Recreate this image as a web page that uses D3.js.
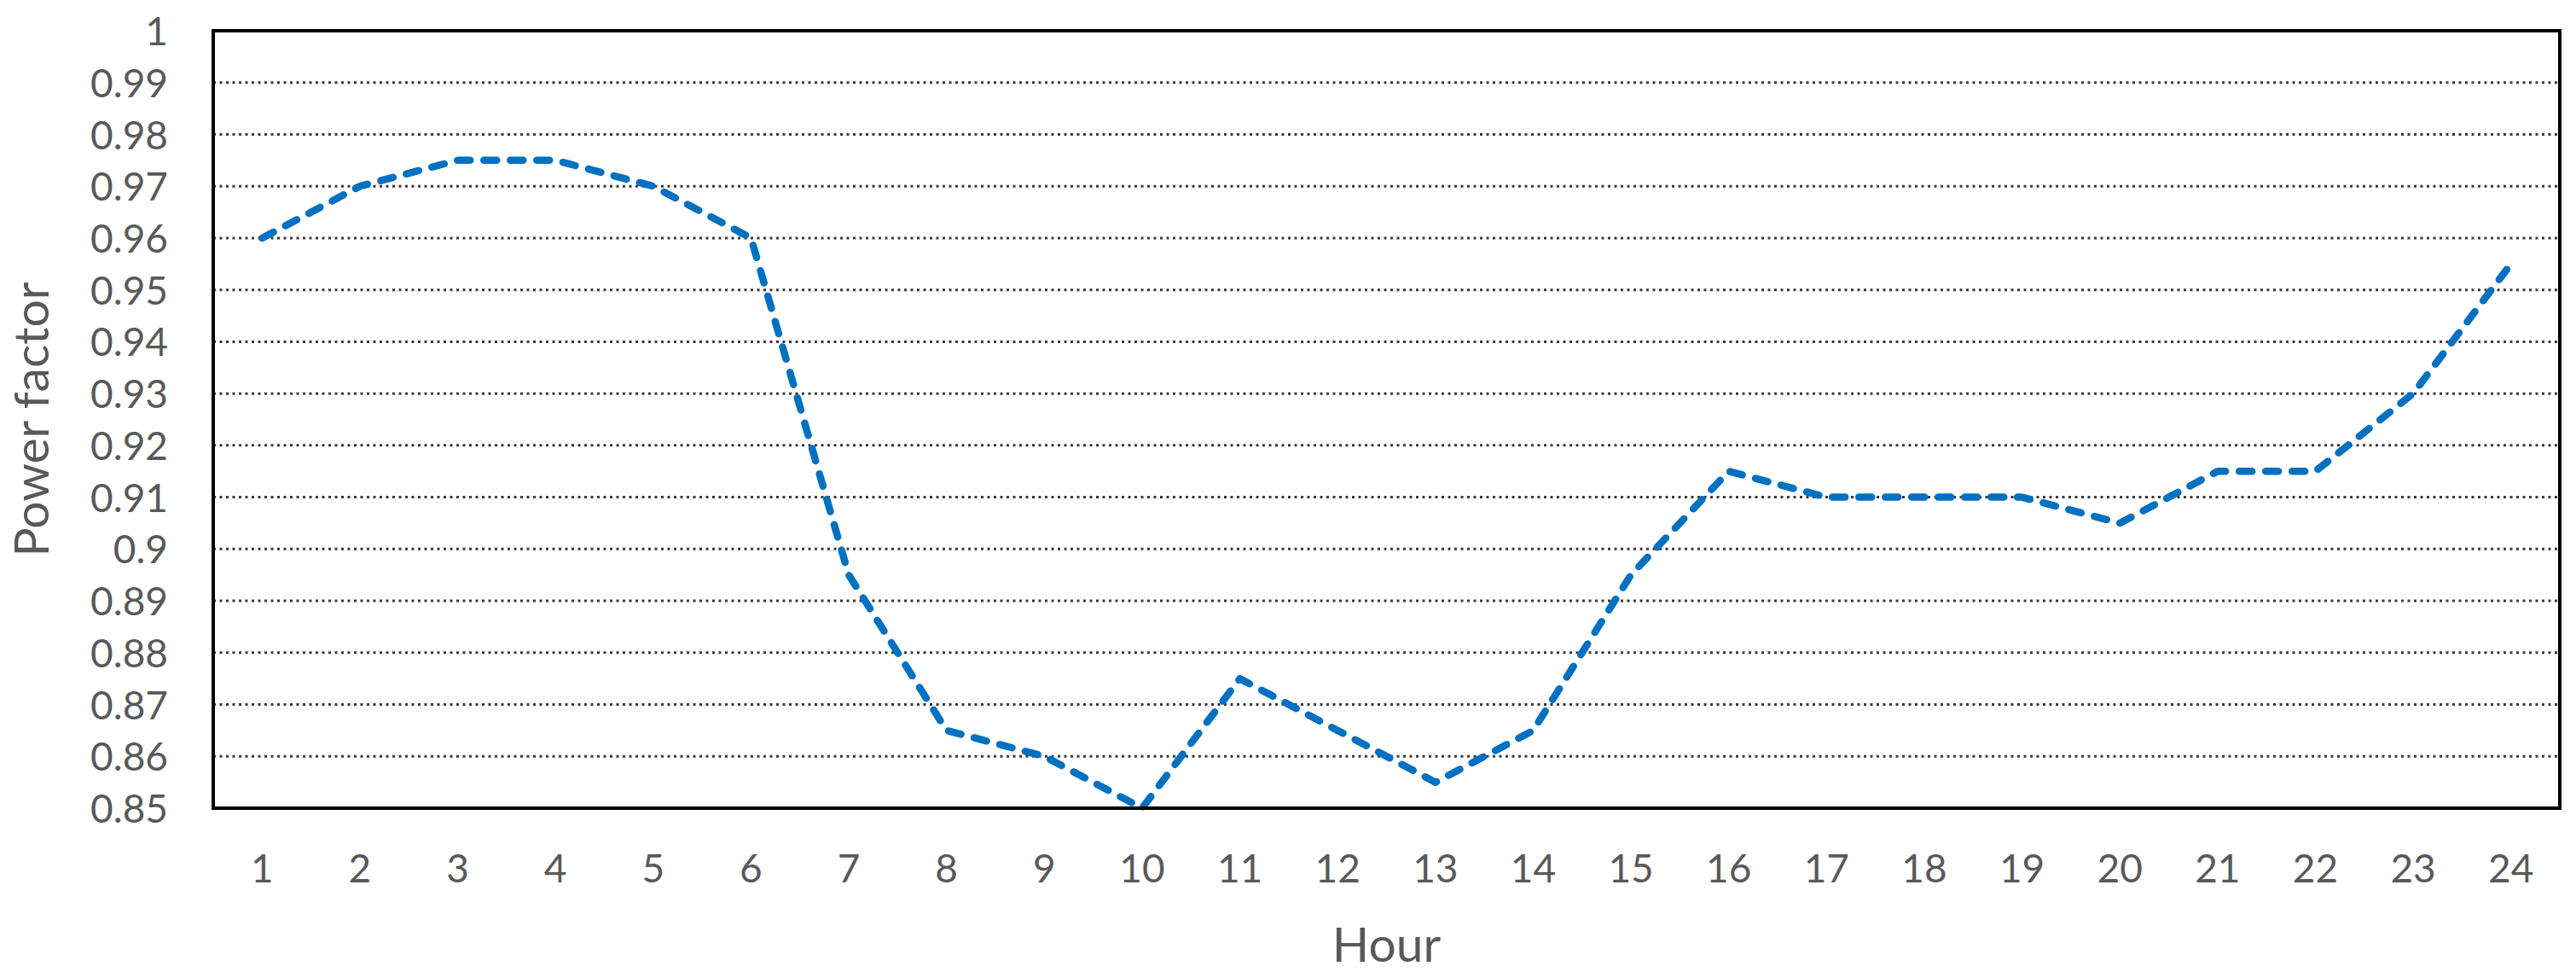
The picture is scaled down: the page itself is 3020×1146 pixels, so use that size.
<!DOCTYPE html>
<html>
<head>
<meta charset="utf-8">
<script src="https://cdn.jsdelivr.net/npm/d3@7"></script>
<style>
  html, body { margin: 0; padding: 0; background: #fff; }
  svg { display: block; }
</style>
</head>
<body>
<svg id="chart" width="3020" height="1146"></svg>
<script>
const hours = ["1","2","3","4","5","6","7","8","9","10","11","12","13","14","15","16","17","18","19","20","21","22","23","24"];
const powerFactor = [0.96,0.97,0.975,0.975,0.97,0.96,0.895,0.865,0.86,0.85,0.875,0.865,0.855,0.865,0.895,0.915,0.91,0.91,0.91,0.905,0.915,0.915,0.93,0.955];
const yTicks = [0.85,0.86,0.87,0.88,0.89,0.9,0.91,0.92,0.93,0.94,0.95,0.96,0.97,0.98,0.99,1];
const xTitle = "Hour";
const yTitle = "Power factor";

(function () {
const svg = d3.select("#chart");
const pLeft = 250, pRight = 3001, pTop = 36, pBottom = 947;
const font = "Lato, 'Open Sans', sans-serif";
const textColor = "#595959";

const x = d3.scaleBand().domain(hours).range([pLeft, pRight]).padding(0);
const y = d3.scaleLinear().domain([0.85, 1]).range([pBottom, pTop]);

// gridlines
svg.append("g").selectAll("line")
  .data(yTicks.filter(d => d > 0.85 && d < 1))
  .join("line")
  .attr("x1", pLeft).attr("x2", pRight)
  .attr("y1", d => y(d)).attr("y2", d => y(d))
  .attr("stroke", "#3a3a3a")
  .attr("stroke-width", 3)
  .attr("stroke-dasharray", "3,4.5");

// y axis labels
const yAxis = d3.axisLeft(y).tickValues(yTicks).tickFormat(d => String(+d.toFixed(2))).tickSize(0).tickPadding(53);
const yg = svg.append("g").attr("transform", `translate(${pLeft},0)`).call(yAxis);
yg.select(".domain").remove();
yg.selectAll("text").attr("font-family", font).attr("font-size", 46).attr("fill", textColor).attr("dy", "0.36em");

// x axis labels
const xAxis = d3.axisBottom(x).tickSize(0).tickPadding(54);
const xg = svg.append("g").attr("transform", `translate(0,${pBottom})`).call(xAxis);
xg.select(".domain").remove();
xg.selectAll("text").attr("font-family", font).attr("font-size", 46).attr("fill", textColor).attr("dy", "0.71em");

// line
const line = d3.line()
  .x((d, i) => x(hours[i]) + x.bandwidth() / 2)
  .y(d => y(d));
svg.append("path")
  .datum(powerFactor)
  .attr("d", line)
  .attr("fill", "none")
  .attr("stroke", "#0070C0")
  .attr("stroke-width", 8.5)
  .attr("stroke-linecap", "round")
  .attr("stroke-linejoin", "round")
  .attr("stroke-dasharray", "15,16");

// plot border
svg.append("rect")
  .attr("x", pLeft).attr("y", pTop)
  .attr("width", pRight - pLeft).attr("height", pBottom - pTop)
  .attr("fill", "none").attr("stroke", "#000").attr("stroke-width", 4);

// axis titles
svg.append("text")
  .attr("x", (pLeft + pRight) / 2).attr("y", 1127)
  .attr("text-anchor", "middle")
  .attr("font-family", font).attr("font-size", 57).attr("fill", textColor)
  .text(xTitle);

svg.append("text")
  .attr("transform", `translate(57,${(pTop + pBottom) / 2}) rotate(-90)`)
  .attr("text-anchor", "middle")
  .attr("font-family", font).attr("font-size", 57).attr("fill", textColor)
  .text(yTitle);
})();
</script>
</body>
</html>
